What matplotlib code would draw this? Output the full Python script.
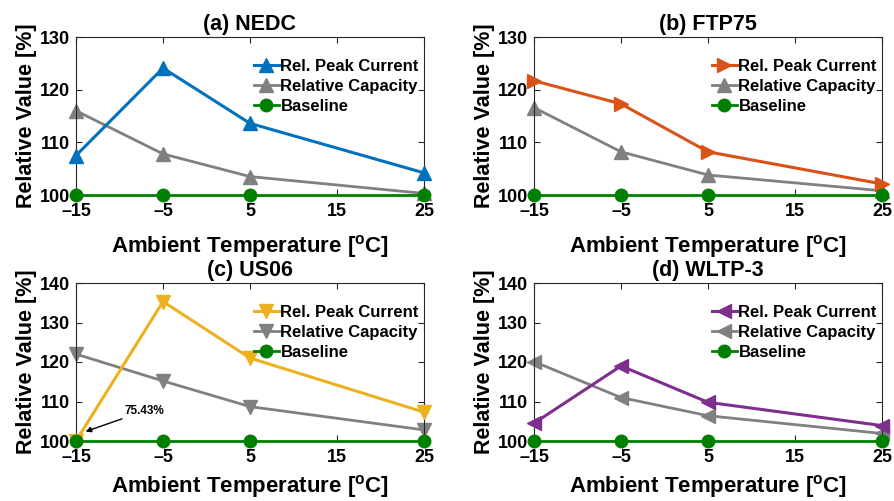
import matplotlib
matplotlib.use("Agg")
import matplotlib.pyplot as plt

plt.rcParams['font.family'] = ['Liberation Sans', 'DejaVu Sans']
plt.rcParams['font.weight'] = 'bold'
plt.rcParams['mathtext.fontset'] = 'custom'
plt.rcParams['mathtext.rm'] = 'Liberation Sans:bold'
plt.rcParams['mathtext.bf'] = 'Liberation Sans:bold'

temps = [-15, -5, 5, 25]
xticks = [-15, -5, 5, 15, 25]
xticklabels = ['\u201315', '\u20135', '5', '15', '25']

titles = ["(a) NEDC", "(b) FTP75", "(c) US06", "(d) WLTP-3"]
peak_nedc = [107.5, 124.1, 113.6, 104.2]
cap_nedc = [116.0, 107.8, 103.5, 100.3]
peak_ftp = [121.7, 117.3, 108.2, 102.1]
cap_ftp = [116.6, 108.2, 103.8, 100.8]
peak_us06 = [100.0, 135.3, 121.0, 107.3]
cap_us06 = [122.0, 115.2, 108.7, 102.8]
peak_wltp = [104.5, 119.0, 109.8, 103.9]
cap_wltp = [120.1, 111.0, 106.4, 101.9]
baseline = [100, 100, 100, 100]

peak_series = [peak_nedc, peak_ftp, peak_us06, peak_wltp]
cap_series = [cap_nedc, cap_ftp, cap_us06, cap_wltp]
peak_colors = ['#0072BD', '#D95319', '#EDB120', '#7E2F8E']
peak_markers = ['^', '>', 'v', '<']
cap_markers = ['^', '^', 'v', '<']
ylims = [(100, 130), (100, 130), (100, 140), (100, 140)]
yticks = [[100, 110, 120, 130], [100, 110, 120, 130],
          [100, 110, 120, 130, 140], [100, 110, 120, 130, 140]]

W, H = 895, 501
fig = plt.figure(figsize=(W / 100, H / 100), dpi=100)

boxes = [(76, 37, 424, 195), (534, 37, 882, 195),
         (76, 283, 424, 441), (534, 283, 882, 441)]

for i in range(4):
    l, t, r, b = boxes[i]
    ax = fig.add_axes([l / W, 1 - b / H, (r - l) / W, (b - t) / H])
    ax.plot(temps, peak_series[i], color=peak_colors[i], lw=2.2,
            marker=peak_markers[i], ms=10, label='Rel. Peak Current',
            clip_on=False, zorder=3)
    ax.plot(temps, cap_series[i], color='#808080', lw=2.0,
            marker=cap_markers[i], ms=10, label='Relative Capacity',
            clip_on=False, zorder=2)
    ax.plot(temps, baseline, color='#008000', lw=2.0,
            marker='o', ms=9, label='Baseline', clip_on=False, zorder=4)
    ax.set_xlim(-15, 25)
    ax.set_ylim(*ylims[i])
    ax.set_xticks(xticks)
    ax.set_xticklabels(xticklabels)
    ax.set_yticks(yticks[i])
    ax.tick_params(direction='in', top=True, right=True, labelsize=13,
                   length=4, width=0.8, colors='#262626')
    ax.tick_params(axis='x', pad=6)
    ax.tick_params(axis='y', pad=4)
    for lab in ax.get_xticklabels() + ax.get_yticklabels():
        lab.set_color('black')
        lab.set_fontweight('bold')
    for s in ax.spines.values():
        s.set_color('#262626')
        s.set_linewidth(0.8)
    ax.set_title(titles[i], fontsize=15.5, fontweight='bold', pad=5)
    ax.set_xlabel('Ambient Temperature [$^{\\mathrm{o}}$C]', fontsize=16,
                  fontweight='bold', labelpad=(9 if i < 2 else 5))
    ax.set_ylabel('Relative Value [%]', fontsize=15.5, fontweight='bold', labelpad=2)
    ax.legend(loc='upper right', bbox_to_anchor=(0.985, 0.86), frameon=False,
              handlelength=1.5, handletextpad=0.1, labelspacing=0.3,
              borderpad=0, borderaxespad=0,
              prop={'weight': 'bold', 'size': 12})
    if i == 2:
        ax.annotate('75.43%', xy=(-13.9, 102.4), xytext=(-9.4, 107.6),
                    fontsize=8.5, fontweight='bold', va='center', ha='left',
                    arrowprops=dict(arrowstyle='-|>', color='black', lw=1.0,
                                    shrinkA=0, shrinkB=0, mutation_scale=8))

fig.savefig('out.png', dpi=100)
